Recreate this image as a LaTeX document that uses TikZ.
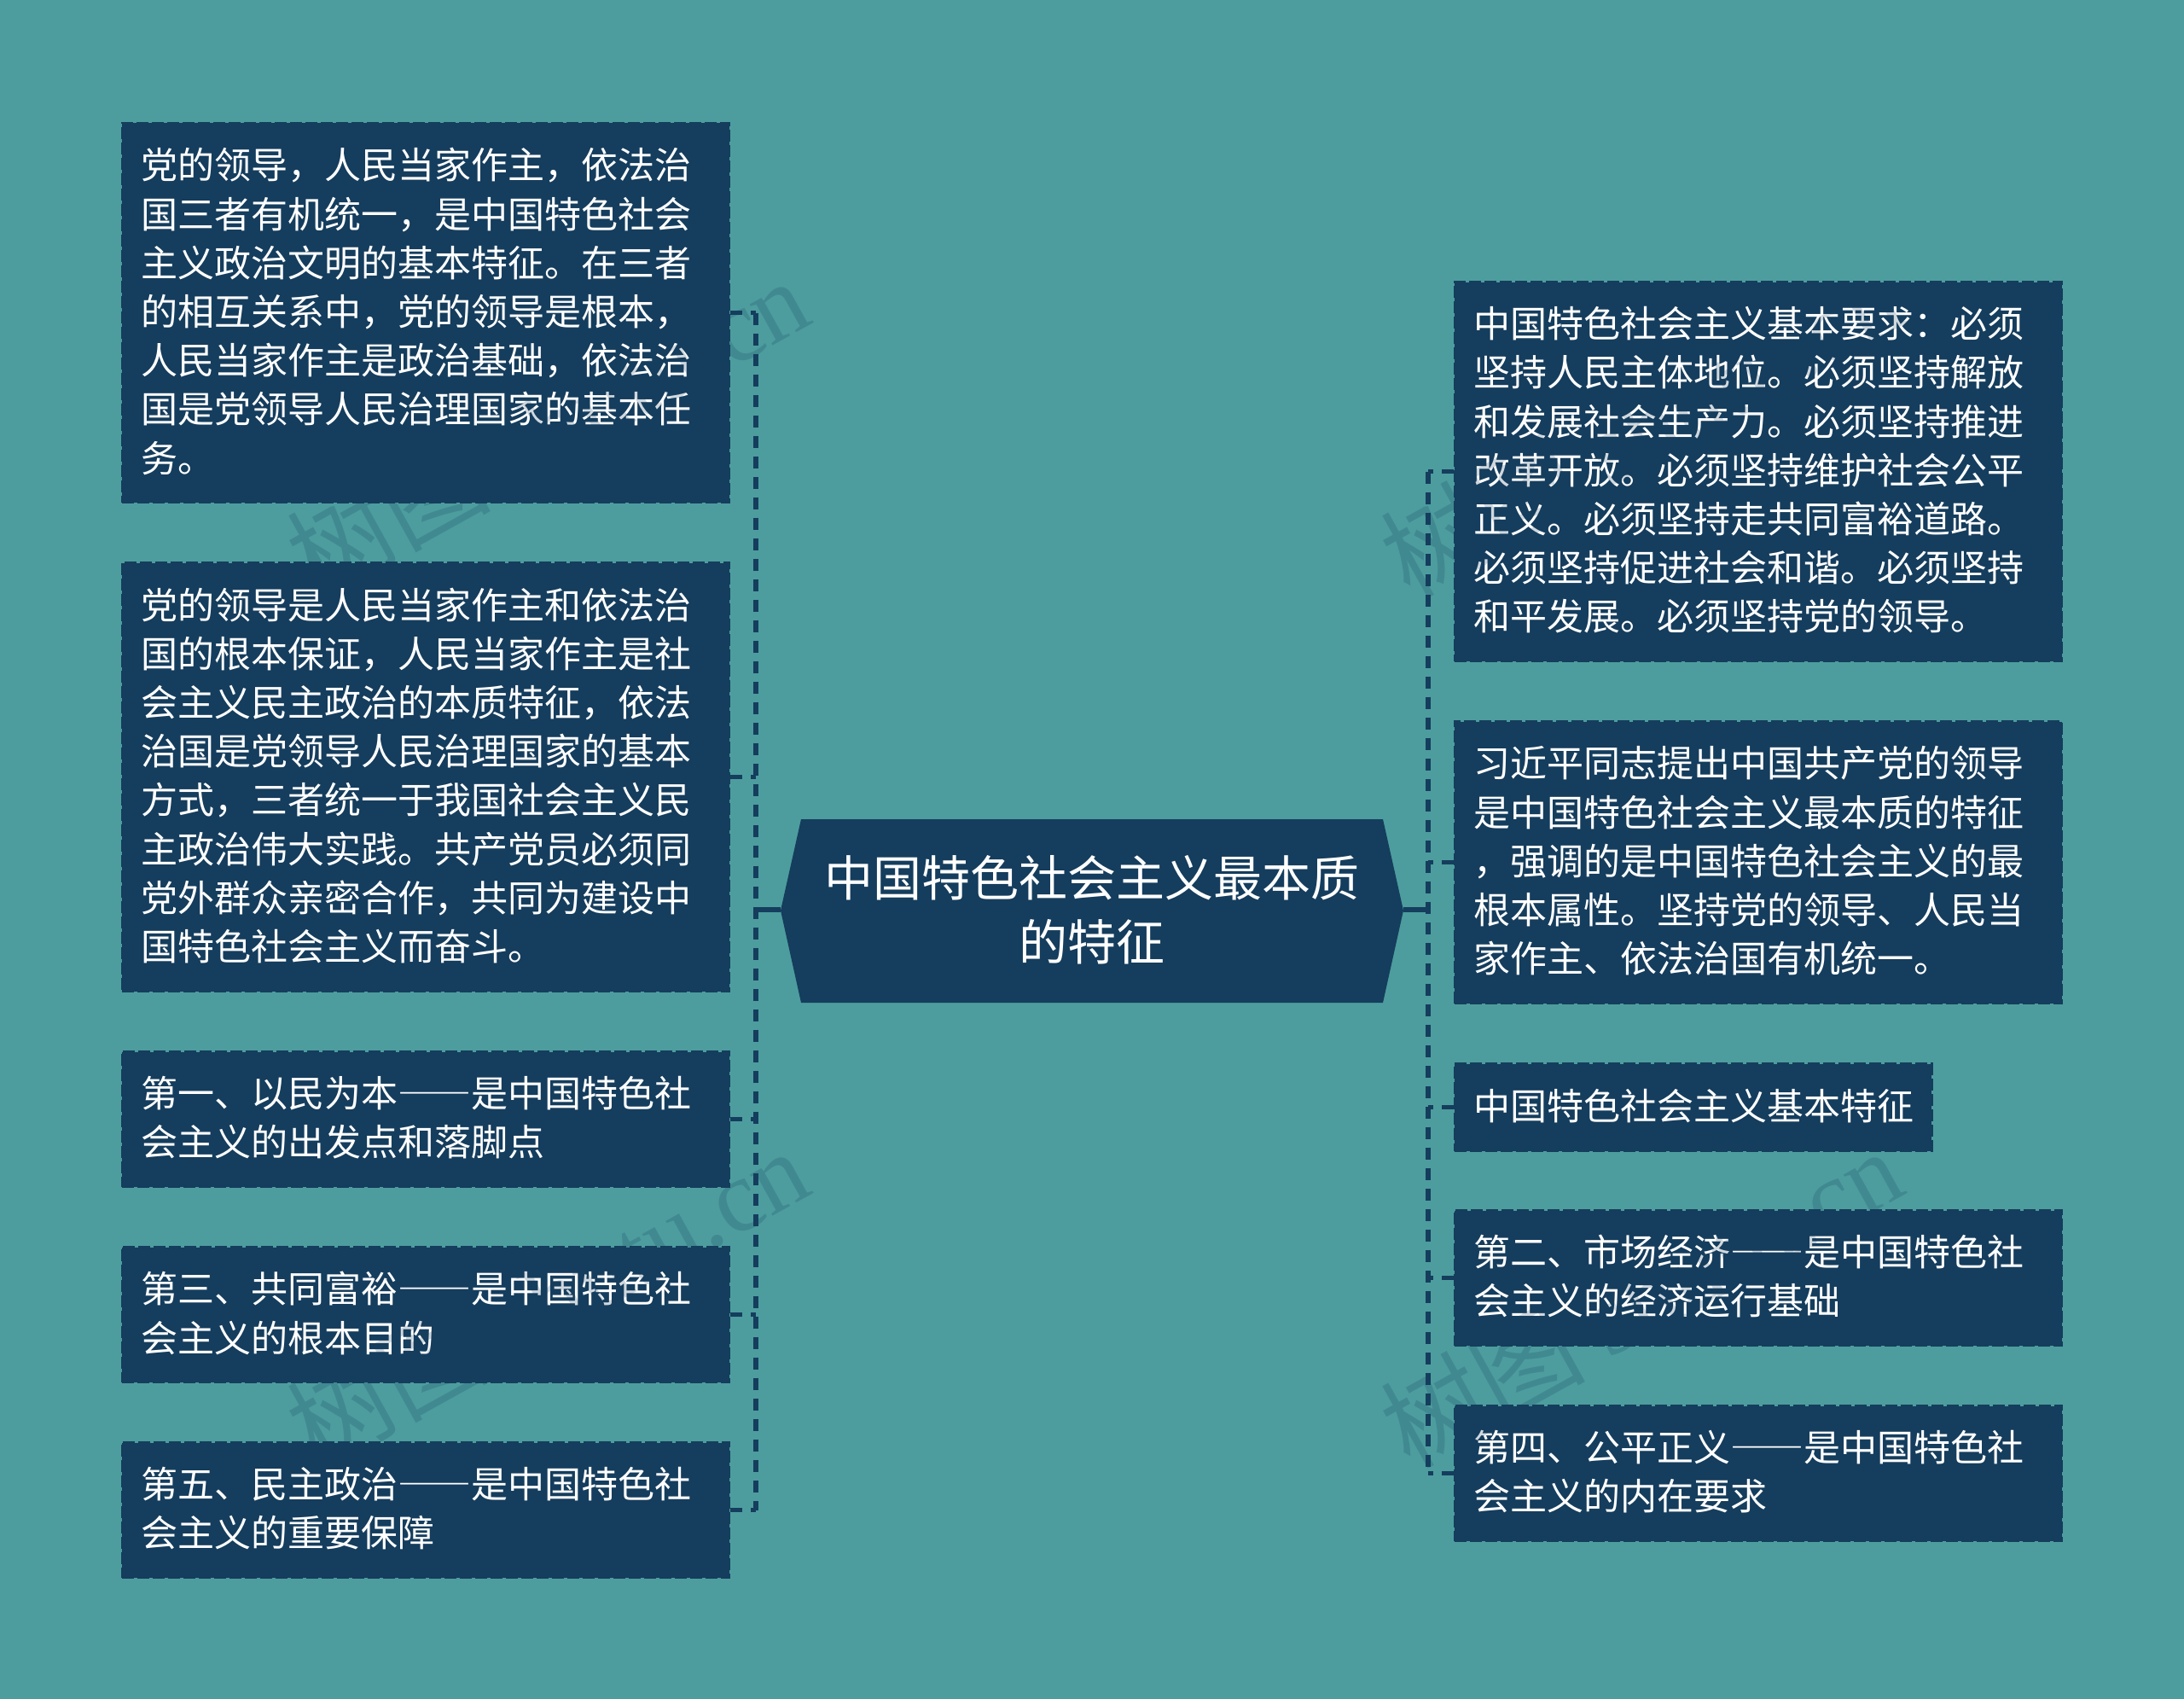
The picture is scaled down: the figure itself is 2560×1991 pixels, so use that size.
\documentclass[tikz,border=0pt]{standalone}
\usepackage{fontspec}
\setmainfont{Noto Sans CJK SC}
\newfontfamily\markfont{Liberation Serif}
\newfontfamily\dashfont[RawFeature=+fwid]{Noto Sans CJK SC}
\newcommand{\longdash}{{\dashfont ——}}
\definecolor{pagebg}{RGB}{77,157,158}
\definecolor{boxblue}{RGB}{21,61,93}
\tikzset{
  leafbox/.style={draw=boxblue, fill=boxblue, line width=1.5pt, dash pattern=on 7pt off 2pt,
    text=white, align=left, anchor=north west, inner xsep=11.3pt, inner ysep=0pt,
    text width=333.2pt, font=\fontsize{21.5}{28.6}\selectfont,
    execute at end node={\par\vspace*{1.6pt}}},
  rootbox/.style={text=white, align=center, inner sep=0pt,
    font=\fontsize{28.5}{37.5}\selectfont},
  trunkline/.style={draw=boxblue, line width=2.6pt, dash pattern=on 7pt off 5pt},
  rootline/.style={draw=boxblue, line width=2.6pt},
  markbox/.style={text=boxblue, opacity=.2, rotate=29, inner sep=0pt, font=\fontsize{60}{60}\selectfont},
}
\begin{document}
\begin{tikzpicture}[x=.5pt,y=-.5pt]
\fill [pagebg] (0,0) rectangle (2560,1991);
\useasboundingbox (0,0) rectangle (2560,1991);
\coordinate (lefttrunk) at (886,0);
\coordinate (righttrunk) at (1674,0);
% root
\fill [boxblue] (915,1067) -- (939,960) -- (1621,960) -- (1645,1067) -- (1621,1175) -- (939,1175) -- cycle;
\node (root) [rootbox, minimum width=365pt, minimum height=107pt] at (1280,1066) {中国特色社会主义最本质\\的特征};
% left side
\node (leftone) [leafbox, minimum height=222pt] at (141.5,143) {
  党的领导，人民当家作主，依法治\\
  国三者有机统一，是中国特色社会\\
  主义政治文明的基本特征。在三者\\
  的相互关系中，党的领导是根本，\\
  人民当家作主是政治基础，依法治\\
  国是党领导人民治理国家的基本任\\
  务。};
\node (lefttwo) [leafbox, minimum height=251pt] at (141.5,658) {
  党的领导是人民当家作主和依法治\\
  国的根本保证，人民当家作主是社\\
  会主义民主政治的本质特征，依法\\
  治国是党领导人民治理国家的基本\\
  方式，三者统一于我国社会主义民\\
  主政治伟大实践。共产党员必须同\\
  党外群众亲密合作，共同为建设中\\
  国特色社会主义而奋斗。};
\node (leftthree) [leafbox, minimum height=79pt] at (141.5,1231) {
  第一、以民为本\longdash 是中国特色社\\
  会主义的出发点和落脚点};
\node (leftfour) [leafbox, minimum height=79pt] at (141.5,1460) {
  第三、共同富裕\longdash 是中国特色社\\
  会主义的根本目的};
\node (leftfive) [leafbox, minimum height=79pt] at (141.5,1689) {
  第五、民主政治\longdash 是中国特色社\\
  会主义的重要保障};
% right side
\node (rightone) [leafbox, minimum height=222pt] at (1703.5,329) {
  中国特色社会主义基本要求：必须\\
  坚持人民主体地位。必须坚持解放\\
  和发展社会生产力。必须坚持推进\\
  改革开放。必须坚持维护社会公平\\
  正义。必须坚持走共同富裕道路。\\
  必须坚持促进社会和谐。必须坚持\\
  和平发展。必须坚持党的领导。};
\node (righttwo) [leafbox, minimum height=165pt] at (1703.5,844) {
  习近平同志提出中国共产党的领导\\
  是中国特色社会主义最本质的特征\\
  ，强调的是中国特色社会主义的最\\
  根本属性。坚持党的领导、人民当\\
  家作主、依法治国有机统一。};
\node (rightthree) [leafbox, text width=257pt, minimum height=51pt] at (1703.5,1245) {
  中国特色社会主义基本特征};
\node (rightfour) [leafbox, minimum height=79pt] at (1703.5,1417) {
  第二、市场经济\longdash 是中国特色社\\
  会主义的经济运行基础};
\node (rightfive) [leafbox, minimum height=79pt] at (1703.5,1646) {
  第四、公平正义\longdash 是中国特色社\\
  会主义的内在要求};
% connectors
\draw [rootline] (root.west) -- (root.west -| lefttrunk);
\draw [rootline] (root.east) -- (root.east -| righttrunk);
\draw [trunkline] (leftone.east -| lefttrunk) -- (leftfive.east -| lefttrunk);
\draw [trunkline] (rightone.west -| righttrunk) -- (rightfive.west -| righttrunk);
\foreach \leaf in {leftone,lefttwo,leftthree,leftfour,leftfive}
  \draw [trunkline] (\leaf.east) -- (\leaf.east -| lefttrunk);
\foreach \leaf in {rightone,righttwo,rightthree,rightfour,rightfive}
  \draw [trunkline] (\leaf.west) -- (\leaf.west -| righttrunk);
% watermark
\node (markone) [markbox] at (641,500) {树图 {\markfont shutu.cn}};
\node (marktwo) [markbox] at (1923,500) {树图 {\markfont shutu.cn}};
\node (markthree) [markbox] at (641,1520) {树图 {\markfont shutu.cn}};
\node (markfour) [markbox] at (1923,1520) {树图 {\markfont shutu.cn}};
\end{tikzpicture}
\end{document}
